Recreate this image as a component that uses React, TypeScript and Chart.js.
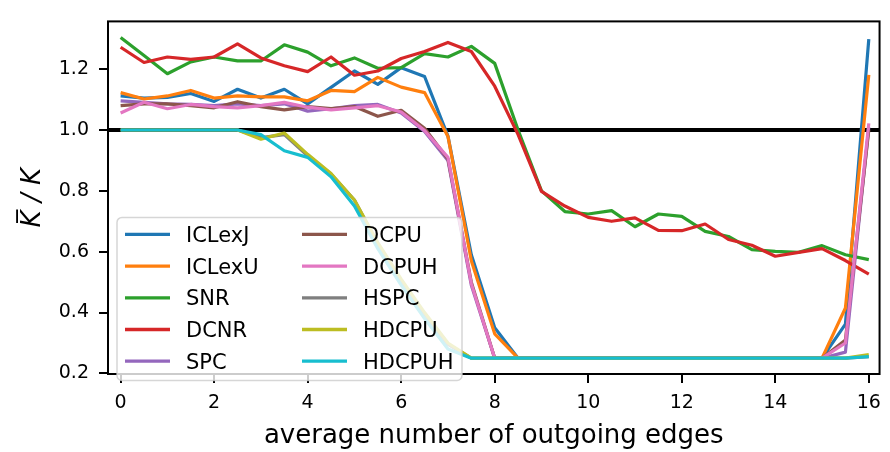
import React, { useEffect, useRef } from "react";
import { Chart, registerables } from "chart.js";

Chart.register(...registerables);

const xValues = [0, 0.5, 1, 1.5, 2, 2.5, 3, 3.5, 4, 4.5, 5, 5.5, 6, 6.5, 7, 7.5, 8, 8.5, 9, 9.5, 10, 10.5, 11, 11.5, 12, 12.5, 13, 13.5, 14, 14.5, 15, 15.5, 16];

const seriesNames = ["ICLexJ", "ICLexU", "SNR", "DCNR", "SPC", "DCPU", "DCPUH", "HSPC", "HDCPU", "HDCPUH"];
const seriesColors = ["#1f77b4", "#ff7f0e", "#2ca02c", "#d62728", "#9467bd", "#8c564b", "#e377c2", "#7f7f7f", "#bcbd22", "#17becf"];

const ICLexJ = [1.112, 1.105, 1.107, 1.12, 1.094, 1.134, 1.105, 1.134, 1.086, 1.14, 1.194, 1.15, 1.205, 1.176, 0.98, 0.59, 0.35, 0.25, 0.25, 0.25, 0.25, 0.25, 0.25, 0.25, 0.25, 0.25, 0.25, 0.25, 0.25, 0.25, 0.25, 0.362, 1.299];
const ICLexU = [1.123, 1.102, 1.112, 1.13, 1.105, 1.112, 1.109, 1.109, 1.096, 1.13, 1.126, 1.173, 1.141, 1.123, 0.979, 0.57, 0.33, 0.25, 0.25, 0.25, 0.25, 0.25, 0.25, 0.25, 0.25, 0.25, 0.25, 0.25, 0.25, 0.25, 0.25, 0.415, 1.181];
const SNR = [1.304, 1.245, 1.185, 1.224, 1.24, 1.227, 1.227, 1.28, 1.256, 1.211, 1.237, 1.203, 1.205, 1.251, 1.24, 1.275, 1.219, 1.0, 0.8, 0.732, 0.724, 0.735, 0.682, 0.724, 0.716, 0.667, 0.65, 0.607, 0.601, 0.598, 0.62, 0.59, 0.574];
const DCNR = [1.272, 1.222, 1.24, 1.232, 1.24, 1.283, 1.237, 1.211, 1.192, 1.24, 1.18, 1.194, 1.235, 1.258, 1.288, 1.258, 1.144, 0.985, 0.798, 0.75, 0.713, 0.7, 0.711, 0.67, 0.669, 0.691, 0.64, 0.621, 0.585, 0.598, 0.61, 0.571, 0.526];
const SPC = [1.096, 1.091, 1.086, 1.084, 1.08, 1.086, 1.08, 1.086, 1.062, 1.07, 1.08, 1.084, 1.056, 0.995, 0.9, 0.49, 0.25, 0.25, 0.25, 0.25, 0.25, 0.25, 0.25, 0.25, 0.25, 0.25, 0.25, 0.25, 0.25, 0.25, 0.25, 0.27, 1.01];
const DCPU = [1.08, 1.086, 1.086, 1.08, 1.073, 1.093, 1.077, 1.066, 1.077, 1.07, 1.077, 1.045, 1.065, 1.006, 0.905, 0.5, 0.25, 0.25, 0.25, 0.25, 0.25, 0.25, 0.25, 0.25, 0.25, 0.25, 0.25, 0.25, 0.25, 0.25, 0.25, 0.31, 1.0];
const DCPUH = [1.056, 1.091, 1.07, 1.084, 1.077, 1.073, 1.08, 1.091, 1.075, 1.066, 1.073, 1.08, 1.059, 0.998, 0.91, 0.495, 0.25, 0.25, 0.25, 0.25, 0.25, 0.25, 0.25, 0.25, 0.25, 0.25, 0.25, 0.25, 0.25, 0.25, 0.25, 0.3, 1.022];
const HSPC = [1, 1, 1, 1, 1, 1, 0.975, 0.985, 0.915, 0.855, 0.77, 0.625, 0.505, 0.395, 0.295, 0.25, 0.25, 0.25, 0.25, 0.25, 0.25, 0.25, 0.25, 0.25, 0.25, 0.25, 0.25, 0.25, 0.25, 0.25, 0.25, 0.25, 0.255];
const HDCPU = [1, 1, 1, 1, 1, 1, 0.97, 0.99, 0.92, 0.857, 0.77, 0.63, 0.51, 0.4, 0.3, 0.25, 0.25, 0.25, 0.25, 0.25, 0.25, 0.25, 0.25, 0.25, 0.25, 0.25, 0.25, 0.25, 0.25, 0.25, 0.25, 0.25, 0.262];
const HDCPUH = [1, 1, 1, 1, 1, 1, 0.985, 0.932, 0.91, 0.846, 0.75, 0.61, 0.49, 0.38, 0.28, 0.25, 0.25, 0.25, 0.25, 0.25, 0.25, 0.25, 0.25, 0.25, 0.25, 0.25, 0.25, 0.25, 0.25, 0.25, 0.25, 0.25, 0.255];

const xTickValues = [0, 2, 4, 6, 8, 10, 12, 14, 16];
const yTickValues = [0.2, 0.4, 0.6, 0.8, 1.0, 1.2];
const referenceLevel = 1.0;

const X_MIN = -0.27;
const X_MAX = 16.23;
const Y_MIN = 0.198;
const Y_MAX = 1.357;

const FONT = "'DejaVu Sans', sans-serif";

const framePlugin = {
  id: "frame",
  afterDatasetsDraw(chart: any) {
    const { ctx, chartArea } = chart;
    ctx.save();
    ctx.strokeStyle = "#000";
    ctx.lineWidth = 2;
    ctx.strokeRect(chartArea.left, chartArea.top, chartArea.right - chartArea.left, chartArea.bottom - chartArea.top);
    ctx.restore();
  },
};

const legendPlugin = {
  id: "mplLegend",
  afterDraw(chart: any) {
    const { ctx, chartArea } = chart;
    const items = chart.data.datasets.filter((d: any) => d.label);
    const boxLeft = chartArea.left + 9;
    const boxTop = chartArea.top + 196;
    const boxW = 345;
    const boxH = 163;
    const r = 5;
    ctx.save();
    ctx.beginPath();
    ctx.moveTo(boxLeft + r, boxTop);
    ctx.lineTo(boxLeft + boxW - r, boxTop);
    ctx.arcTo(boxLeft + boxW, boxTop, boxLeft + boxW, boxTop + r, r);
    ctx.lineTo(boxLeft + boxW, boxTop + boxH - r);
    ctx.arcTo(boxLeft + boxW, boxTop + boxH, boxLeft + boxW - r, boxTop + boxH, r);
    ctx.lineTo(boxLeft + r, boxTop + boxH);
    ctx.arcTo(boxLeft, boxTop + boxH, boxLeft, boxTop + boxH - r, r);
    ctx.lineTo(boxLeft, boxTop + r);
    ctx.arcTo(boxLeft, boxTop, boxLeft + r, boxTop, r);
    ctx.closePath();
    ctx.fillStyle = "rgba(255,255,255,0.8)";
    ctx.fill();
    ctx.strokeStyle = "rgba(204,204,204,0.8)";
    ctx.lineWidth = 1.5;
    ctx.stroke();

    ctx.font = `21px ${FONT}`;
    ctx.textBaseline = "middle";
    ctx.textAlign = "left";
    const rows = 5;
    items.forEach((d: any, i: number) => {
      const col = Math.floor(i / rows);
      const row = i % rows;
      const cx = boxLeft + 8 + col * 177;
      const cy = boxTop + 17 + row * 31.7;
      ctx.strokeStyle = d.borderColor;
      ctx.lineWidth = 3.3;
      ctx.lineCap = "butt";
      ctx.beginPath();
      ctx.moveTo(cx, cy);
      ctx.lineTo(cx + 45, cy);
      ctx.stroke();
      ctx.fillStyle = "#000";
      ctx.fillText(d.label, cx + 61, cy + 2);
    });
    ctx.restore();
  },
};

export default function App() {
  const canvasRef = useRef<HTMLCanvasElement | null>(null);

  useEffect(() => {
    const canvas = canvasRef.current;
    if (!canvas) return;
    const series = [ICLexJ, ICLexU, SNR, DCNR, SPC, DCPU, DCPUH, HSPC, HDCPU, HDCPUH];
    const datasets: any[] = series.map((vals, i) => ({
      label: seriesNames[i],
      data: vals.map((y, j) => ({ x: xValues[j], y })),
      borderColor: seriesColors[i],
      backgroundColor: seriesColors[i],
      borderWidth: 3.2,
      pointRadius: 0,
      tension: 0,
      fill: false,
      order: 20 - i,
      borderJoinStyle: "round",
      borderCapStyle: "butt",
    }));
    datasets.push({
      label: "",
      data: [
        { x: X_MIN, y: referenceLevel },
        { x: X_MAX, y: referenceLevel },
      ],
      borderColor: "#000",
      backgroundColor: "#000",
      borderWidth: 4,
      pointRadius: 0,
      fill: false,
      order: 100,
    });

    const chart = new Chart(canvas, {
      type: "line",
      data: { datasets },
      options: {
        responsive: false,
        animation: false,
        devicePixelRatio: 1,
        layout: { padding: { left: 0, right: 8, top: 12, bottom: 0 } },
        plugins: {
          legend: { display: false },
          tooltip: { enabled: false },
        },
        scales: {
          x: {
            type: "linear",
            min: X_MIN,
            max: X_MAX,
            afterBuildTicks: (scale: any) => {
              scale.ticks = xTickValues.map((v) => ({ value: v }));
            },
            afterFit: (scale: any) => {
              scale.height = 78;
            },
            ticks: {
              autoSkip: false,
              maxRotation: 0,
              color: "#000",
              padding: 9,
              font: { family: FONT, size: 19 },
              callback: (v: any) => String(v),
            },
            grid: {
              display: true,
              drawOnChartArea: false,
              drawTicks: true,
              tickLength: 9,
              color: "#000",
              lineWidth: 2,
            },
            border: { display: false },
            title: {
              display: true,
              text: "average number of outgoing edges",
              color: "#000",
              font: { family: FONT, size: 26 },
              padding: { top: 0, bottom: 0 },
            },
          },
          y: {
            type: "linear",
            min: Y_MIN,
            max: Y_MAX,
            afterBuildTicks: (scale: any) => {
              scale.ticks = yTickValues.map((v) => ({ value: v }));
            },
            afterFit: (scale: any) => {
              scale.width = 108;
            },
            ticks: {
              color: "#000",
              padding: 10,
              font: { family: FONT, size: 19 },
              callback: (v: any) => Number(v).toFixed(1),
            },
            grid: {
              display: true,
              drawOnChartArea: false,
              drawTicks: true,
              tickLength: 9,
              color: "#000",
              lineWidth: 2,
            },
            border: { display: false },
            title: {
              display: true,
              text: "K\u0305 / K",
              color: "#000",
              font: { family: FONT, size: 26, style: "italic" },
              padding: { top: 18, bottom: 0 },
            },
          },
        },
      },
      plugins: [framePlugin, legendPlugin],
    });

    return () => {
      chart.destroy();
    };
  }, []);

  return (
    <div style={{ position: "fixed", left: 0, top: 0, width: 890, height: 452, background: "#fff" }}>
      <canvas ref={canvasRef} width={890} height={452} style={{ display: "block", width: 890, height: 452 }} />
    </div>
  );
}
